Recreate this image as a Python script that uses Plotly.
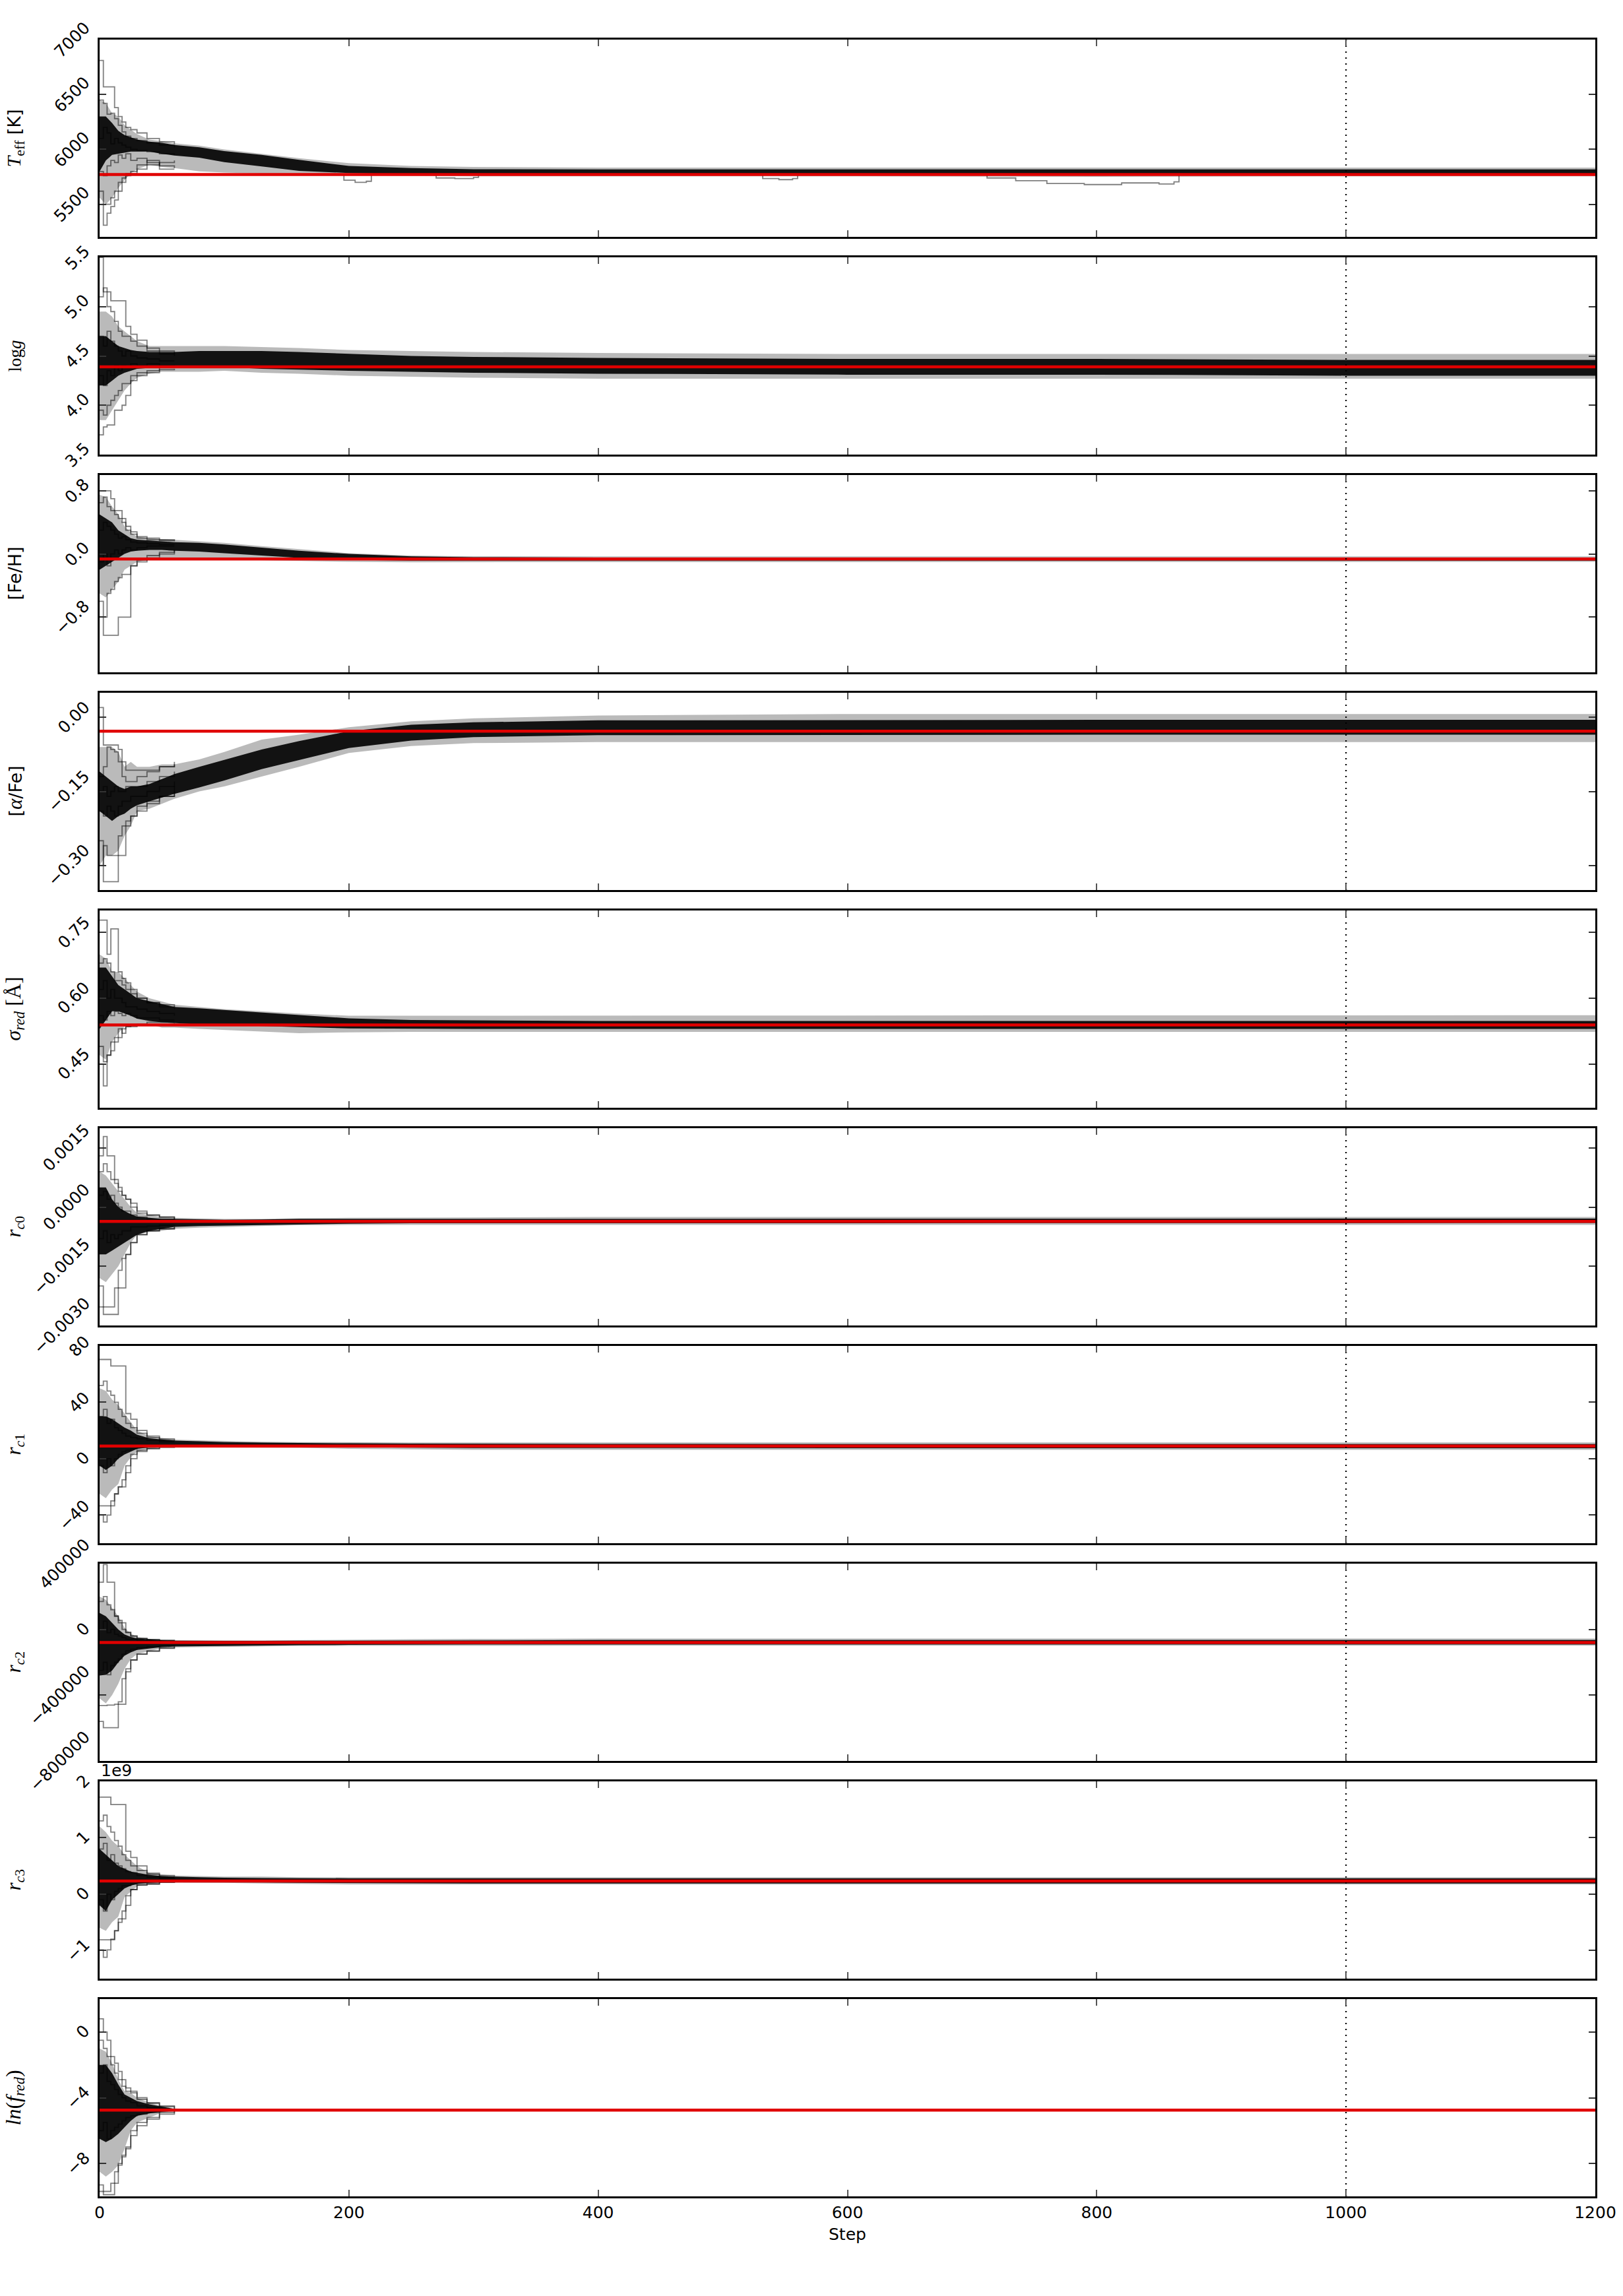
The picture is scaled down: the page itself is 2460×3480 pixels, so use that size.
import plotly.graph_objects as go
from plotly.subplots import make_subplots

# ---------------------------------------------------------------
# Data
# ---------------------------------------------------------------
STEPS = [0, 5, 10, 15, 20, 25, 30, 40, 50, 60, 80, 100, 130, 160, 200, 250,
         300, 400, 600, 800, 1000, 1200]
WALK_STEPS = [0, 3, 6, 9, 12, 15, 18, 21, 25, 30, 38, 48, 60]
X_TICKS = [0, 200, 400, 600, 800, 1000, 1200]
BURN_IN = 1000
N_STEPS = 1200

# --- T_eff ---
teff_outer_hi = [6450, 6420, 6330, 6300, 6220, 6180, 6140, 6090, 6075, 6055, 6035, 6000,
                 5960, 5920, 5875, 5850, 5840, 5835, 5835, 5835, 5835, 5835]
teff_core_hi = [6300, 6300, 6240, 6170, 6130, 6110, 6090, 6070, 6060, 6040, 6020, 5985,
                5950, 5905, 5850, 5830, 5820, 5818, 5818, 5815, 5818, 5818]
teff_core_lo = [5800, 5900, 5950, 5960, 5970, 5980, 5980, 5980, 5960, 5945, 5925, 5885,
                5845, 5805, 5785, 5775, 5772, 5770, 5770, 5770, 5770, 5770]
teff_outer_lo = [5560, 5500, 5560, 5650, 5720, 5780, 5820, 5860, 5840, 5830, 5800, 5790,
                 5780, 5770, 5765, 5760, 5755, 5755, 5755, 5750, 5755, 5755]
teff_walkers = [
    [6810, 6570, 6570, 6570, 6380, 6300, 6250, 6200, 6180, 6150, 6100, 6070, 6050],
    [6450, 6420, 6320, 6330, 6280, 6220, 6160, 6120, 6100, 6080, 6060, 6040, 6020],
    [6100, 6200, 6150, 6050, 6100, 6060, 6040, 6020, 6000, 5990, 5980, 5960, 5950],
    [5800, 5760, 5850, 5900, 5880, 5950, 5920, 5960, 5900, 5920, 5880, 5850, 5830],
    [5620, 5500, 5500, 5560, 5620, 5700, 5740, 5780, 5800, 5860, 5900, 5820, 5820],
    [5500, 5310, 5420, 5480, 5540, 5620, 5700, 5760, 5780, 5820, 5860, 5880, 5900],
]
teff_stray_steps = [192, 196, 205, 214, 218, None, 262, 270, 285, 300, 304, None,
                    528, 532, 545, 556, 560, None,
                    705, 712, 735, 760, 790, 820, 850, 862, 866]
teff_stray_vals = [5770, 5720, 5700, 5710, 5770, None, 5770, 5740, 5735, 5745, 5770, None,
                   5770, 5735, 5725, 5735, 5770, None,
                   5770, 5740, 5715, 5690, 5680, 5695, 5685, 5705, 5770]
teff_best = 5772
teff_range = [5204, 7000]
teff_tickvals = [5500, 6000, 6500, 7000]
teff_ticktext = ["5500", "6000", "6500", "7000"]

# --- log g ---
logg_outer_hi = [4.95, 4.95, 4.9, 4.8, 4.75, 4.7, 4.65, 4.6, 4.6, 4.6, 4.6, 4.6,
                 4.59, 4.58, 4.56, 4.55, 4.54, 4.53, 4.52, 4.52, 4.52, 4.52]
logg_core_hi = [4.7, 4.7, 4.65, 4.6, 4.58, 4.56, 4.55, 4.54, 4.54, 4.54, 4.55, 4.55,
                4.55, 4.54, 4.52, 4.5, 4.49, 4.48, 4.47, 4.47, 4.46, 4.46]
logg_core_lo = [4.2, 4.2, 4.25, 4.3, 4.33, 4.35, 4.37, 4.38, 4.39, 4.39, 4.39, 4.39,
                4.37, 4.36, 4.35, 4.34, 4.33, 4.32, 4.31, 4.31, 4.3, 4.3]
logg_outer_lo = [3.85, 3.85, 3.95, 4.05, 4.15, 4.22, 4.28, 4.32, 4.34, 4.34, 4.34, 4.35,
                 4.33, 4.32, 4.3, 4.29, 4.28, 4.27, 4.27, 4.27, 4.27, 4.27]
logg_walkers = [
    [5.5, 5.15, 5.15, 5.06, 5.06, 5.06, 5.06, 4.80, 4.72, 4.66, 4.58, 4.55, 4.52],
    [5.1, 5.19, 5.0, 4.95, 4.85, 4.75, 4.7, 4.7, 4.65, 4.6, 4.55, 4.52, 4.5],
    [4.7, 4.6, 4.75, 4.65, 4.6, 4.55, 4.5, 4.55, 4.5, 4.48, 4.47, 4.45, 4.45],
    [4.3, 4.2, 4.35, 4.3, 4.4, 4.35, 4.4, 4.38, 4.42, 4.4, 4.42, 4.4, 4.41],
    [3.95, 3.9, 4.0, 4.05, 4.1, 4.15, 4.22, 4.22, 4.3, 4.33, 4.35, 4.38, 4.38],
    [3.7, 3.78, 3.8, 3.8, 3.95, 3.95, 4.0, 4.1, 4.25, 4.3, 4.33, 4.36, 4.37],
]
logg_best = 4.39
logg_range = [3.5, 5.5]
logg_tickvals = [3.5, 4.0, 4.5, 5.0, 5.5]
logg_ticktext = ["3.5", "4.0", "4.5", "5.0", "5.5"]

# --- [Fe/H] ---
feh_outer_hi = [0.75, 0.72, 0.6, 0.5, 0.35, 0.27, 0.22, 0.2, 0.19, 0.18, 0.16, 0.14,
                0.1, 0.06, 0.01, -0.02, -0.03, -0.03, -0.03, -0.03, -0.03, -0.03]
feh_core_hi = [0.5, 0.45, 0.4, 0.3, 0.25, 0.2, 0.18, 0.17, 0.16, 0.15, 0.14, 0.12,
               0.08, 0.04, 0.0, -0.03, -0.04, -0.045, -0.045, -0.045, -0.045, -0.045]
feh_core_lo = [-0.2, -0.15, -0.1, -0.05, 0.0, 0.03, 0.04, 0.05, 0.05, 0.04, 0.03, 0.01,
               -0.02, -0.05, -0.075, -0.085, -0.085, -0.085, -0.085, -0.085, -0.085, -0.085]
feh_outer_lo = [-0.5, -0.55, -0.45, -0.35, -0.2, -0.15, -0.1, -0.07, -0.07, -0.06, -0.06, -0.07,
                -0.08, -0.09, -0.1, -0.105, -0.105, -0.1, -0.1, -0.1, -0.1, -0.1]
feh_walkers = [
    [0.80, 0.80, 0.80, 0.70, 0.55, 0.55, 0.45, 0.35, 0.28, 0.22, 0.2, 0.18, 0.17],
    [0.65, 0.72, 0.6, 0.55, 0.5, 0.45, 0.4, 0.3, 0.25, 0.2, 0.18, 0.17, 0.16],
    [0.3, 0.4, 0.35, 0.3, 0.25, 0.2, 0.22, 0.18, 0.15, 0.14, 0.13, 0.12, 0.12],
    [-0.1, 0.0, -0.15, 0.0, 0.05, 0.0, 0.05, 0.08, 0.05, 0.08, 0.1, 0.1, 0.1],
    [-0.80, -0.80, -0.5, -0.45, -0.35, -0.3, -0.26, -0.26, -0.15, -0.1, -0.05, 0.0, 0.05],
    [-0.6, -1.03, -1.03, -1.03, -1.03, -0.80, -0.80, -0.80, -0.15, -0.08, -0.02, 0.02, 0.05],
]
feh_best = -0.065
feh_range = [-1.5, 1.0]
feh_tickvals = [-0.8, 0.0, 0.8]
feh_ticktext = ["\u22120.8", "0.0", "0.8"]

# --- [alpha/Fe] ---
afe_outer_hi = [-0.06, -0.06, -0.06, -0.07, -0.1, -0.09, -0.1, -0.1, -0.095, -0.095, -0.085, -0.07,
                -0.045, -0.035, -0.02, -0.008, -0.002, 0.004, 0.007, 0.007, 0.007, 0.007]
afe_core_hi = [-0.11, -0.12, -0.13, -0.14, -0.145, -0.14, -0.14, -0.135, -0.125, -0.115, -0.1, -0.086,
               -0.065, -0.048, -0.028, -0.015, -0.01, -0.006, -0.005, -0.005, -0.005, -0.005]
afe_core_lo = [-0.19, -0.2, -0.21, -0.2, -0.195, -0.185, -0.178, -0.17, -0.162, -0.155, -0.142, -0.128,
               -0.105, -0.087, -0.062, -0.047, -0.04, -0.036, -0.035, -0.035, -0.035, -0.035]
afe_outer_lo = [-0.3, -0.28, -0.28, -0.27, -0.24, -0.22, -0.19, -0.185, -0.175, -0.165, -0.15, -0.14,
                -0.12, -0.1, -0.072, -0.058, -0.052, -0.05, -0.05, -0.05, -0.05, -0.05]
afe_walkers = [
    [0.02, -0.056, -0.056, -0.056, -0.056, -0.065, -0.09, -0.107, -0.107, -0.107, -0.107, -0.1, -0.095],
    [-0.12, -0.1, -0.06, -0.065, -0.07, -0.09, -0.12, -0.13, -0.13, -0.12, -0.11, -0.1, -0.09],
    [-0.15, -0.14, -0.16, -0.15, -0.14, -0.15, -0.15, -0.14, -0.14, -0.14, -0.13, -0.12, -0.11],
    [-0.19, -0.2, -0.18, -0.19, -0.2, -0.18, -0.17, -0.17, -0.16, -0.16, -0.15, -0.14, -0.13],
    [-0.30, -0.26, -0.28, -0.28, -0.28, -0.28, -0.28, -0.22, -0.2, -0.18, -0.17, -0.16, -0.14],
    [-0.25, -0.333, -0.333, -0.333, -0.333, -0.24, -0.22, -0.21, -0.2, -0.19, -0.175, -0.16, -0.15],
]
afe_best = -0.028
afe_range = [-0.35, 0.05]
afe_tickvals = [-0.30, -0.15, 0.00]
afe_ticktext = ["\u22120.30", "\u22120.15", "0.00"]

# --- sigma_red ---
sig_outer_hi = [0.7, 0.69, 0.66, 0.66, 0.645, 0.63, 0.615, 0.6, 0.592, 0.585, 0.58, 0.575,
                0.57, 0.565, 0.56, 0.56, 0.561, 0.561, 0.561, 0.561, 0.561, 0.561]
sig_core_hi = [0.67, 0.67, 0.65, 0.63, 0.62, 0.61, 0.6, 0.593, 0.586, 0.58, 0.577, 0.573,
               0.567, 0.561, 0.554, 0.55, 0.549, 0.548, 0.548, 0.548, 0.548, 0.548]
sig_core_lo = [0.53, 0.55, 0.57, 0.57, 0.565, 0.56, 0.553, 0.548, 0.545, 0.543, 0.54, 0.539,
               0.536, 0.534, 0.531, 0.53, 0.53, 0.53, 0.53, 0.53, 0.53, 0.53]
sig_outer_lo = [0.47, 0.46, 0.5, 0.52, 0.535, 0.54, 0.54, 0.54, 0.533, 0.533, 0.53, 0.528,
                0.524, 0.52, 0.522, 0.523, 0.523, 0.523, 0.523, 0.523, 0.523, 0.523]
sig_walkers = [
    [0.778, 0.778, 0.70, 0.758, 0.758, 0.66, 0.645, 0.635, 0.62, 0.60, 0.59, 0.585, 0.58],
    [0.68, 0.69, 0.68, 0.66, 0.64, 0.64, 0.63, 0.62, 0.61, 0.6, 0.59, 0.58, 0.575],
    [0.62, 0.64, 0.6, 0.62, 0.6, 0.6, 0.59, 0.58, 0.58, 0.575, 0.57, 0.565, 0.56],
    [0.56, 0.55, 0.57, 0.56, 0.57, 0.565, 0.56, 0.565, 0.56, 0.555, 0.555, 0.55, 0.55],
    [0.49, 0.455, 0.47, 0.5, 0.5, 0.51, 0.53, 0.535, 0.54, 0.54, 0.545, 0.545, 0.545],
    [0.45, 0.40, 0.47, 0.48, 0.51, 0.53, 0.52, 0.535, 0.535, 0.54, 0.54, 0.54, 0.543],
]
sig_best = 0.539
sig_range = [0.35, 0.80]
sig_tickvals = [0.45, 0.60, 0.75]
sig_ticktext = ["0.45", "0.60", "0.75"]

# --- r_c0 ---
rc0_outer_hi = [0.0009, 0.0008, 0.0006, 0.0004, 0.0002, 0.0, -0.00015, -0.0002, -0.00025, -0.00027,
                -0.00028, -0.0003, -0.0003, -0.00028, -0.00027, -0.00026, -0.00026, -0.00025,
                -0.00025, -0.00025, -0.00025, -0.00025]
rc0_core_hi = [0.0005, 0.0005, 0.0002, 0.0, -0.0001, -0.00018, -0.00024, -0.00027, -0.0003, -0.0003,
               -0.00031, -0.00032, -0.00031, -0.0003, -0.0003, -0.0003, -0.00029, -0.00029,
               -0.00029, -0.00029, -0.00029, -0.00029]
rc0_core_lo = [-0.0012, -0.0012, -0.0011, -0.001, -0.0009, -0.0008, -0.0007, -0.0006, -0.00055, -0.0005,
               -0.00048, -0.00047, -0.00045, -0.00043, -0.00042, -0.00041, -0.00041, -0.0004,
               -0.0004, -0.0004, -0.0004, -0.0004]
rc0_outer_lo = [-0.0018, -0.0019, -0.0017, -0.0015, -0.0012, -0.0009, -0.0007, -0.00063, -0.0006,
                -0.00055, -0.00052, -0.0005, -0.00048, -0.00046, -0.00045, -0.00045, -0.00045,
                -0.00045, -0.00045, -0.00045, -0.00045, -0.00045]
rc0_walkers = [
    [0.0013, 0.00179, 0.0013, 0.0013, 0.0007, 0.0005, 0.0003, 0.0002, 0.0, -0.00015, -0.0002, -0.00025, -0.0003],
    [0.0009, 0.0011, 0.0009, 0.0007, 0.0006, 0.0004, 0.0003, 0.0002, 0.0001, -0.0001, -0.0002, -0.00025, -0.0003],
    [0.0003, 0.0004, 0.0002, 0.0003, 0.0001, 0.0, -0.0001, -0.0001, -0.0002, -0.00025, -0.0003, -0.0003, -0.00032],
    [-0.0008, -0.0006, -0.0009, -0.0007, -0.0008, -0.0007, -0.0006, -0.0006, -0.0005, -0.0005, -0.00048, -0.00046, -0.00045],
    [-0.00253, -0.00253, -0.00253, -0.00253, -0.00205, -0.00205, -0.00205, -0.0012, -0.0009, -0.0007, -0.0006, -0.00055, -0.0005],
    [-0.002, -0.00272, -0.00272, -0.00272, -0.00272, -0.0016, -0.0013, -0.0012, -0.0009, -0.0007, -0.0006, -0.00055, -0.0005],
]
rc0_best = -0.00036
rc0_range = [-0.003, 0.002]
rc0_tickvals = [-0.0030, -0.0015, 0.0, 0.0015]
rc0_ticktext = ["\u22120.0030", "\u22120.0015", "0.0000", "0.0015"]

# --- r_c1 ---
rc1_outer_hi = [50, 48, 42, 38, 32, 26, 20, 16, 14.6, 13.5, 13, 12.5,
                12, 11.8, 11.6, 11.5, 11.5, 11.5, 11.5, 11.5, 11.5, 11.5]
rc1_core_hi = [30, 30, 28, 25, 22, 20, 17, 14.5, 13.5, 12.8, 12.3, 11.8,
               11.4, 11.1, 10.9, 10.7, 10.6, 10.5, 10.4, 10.4, 10.4, 10.4]
rc1_core_lo = [-5, -8, -5, 0, 3, 5, 7, 8, 8.5, 8.7, 8.7, 8.6,
               8.5, 8.3, 8.0, 7.8, 7.6, 7.5, 7.4, 7.4, 7.4, 7.4]
rc1_outer_lo = [-25, -28, -22, -18, -5, 1, 5, 7, 8, 8, 8, 8,
                7.8, 7.7, 7, 6.5, 6.3, 6.2, 6.2, 6.2, 6.2, 6.2]
rc1_walkers = [
    [70.4, 70.4, 70.4, 65.8, 65.8, 65.8, 65.8, 32, 28, 20, 16, 14, 13],
    [52, 55, 48, 45, 40, 35, 30, 25, 22, 18, 15, 13, 12.5],
    [30, 35, 25, 28, 22, 20, 18, 16, 15, 14, 13, 12, 12],
    [-5, -10, 0, -5, 0, 3, 5, 6, 7, 8, 9, 9.5, 10],
    [-33.5, -33.5, -33.5, -33.5, -25, -20, -20, -5, 0, 5, 7, 8, 8.5],
    [-40, -45, -40, -30, -25, -20, -15, -10, 3, 6, 7.3, 8.3, 8.5],
]
rc1_best = 9.0
rc1_range = [-60, 80]
rc1_tickvals = [-40, 0, 40, 80]
rc1_ticktext = ["\u221240", "0", "40", "80"]

# --- r_c2 ---
rc2_outer_hi = [200000, 180000, 130000, 80000, 10000, -25000, -45000, -58000, -64000, -66000, -67000,
                -68000, -66000, -64000, -62000, -60000, -58000, -56000, -56000, -56000, -56000, -56000]
rc2_core_hi = [100000, 80000, 40000, 0, -30000, -45000, -55000, -62000, -67000, -69000, -70000,
               -71000, -70000, -69000, -68000, -67000, -66000, -65000, -65000, -65000, -65000, -65000]
rc2_core_lo = [-280000, -276000, -250000, -200000, -160000, -140000, -125000, -115000, -108000, -104000,
               -102000, -100000, -98000, -96000, -94000, -92000, -92000, -92000, -92000, -92000,
               -92000, -92000]
rc2_outer_lo = [-420000, -450000, -400000, -330000, -240000, -180000, -150000, -133000, -115000, -110000,
                -108000, -106000, -103000, -101000, -100000, -99000, -99000, -99000, -99000, -99000,
                -99000, -99000]
rc2_walkers = [
    [287000, 394600, 287000, 287000, 82000, 55000, 40000, -16600, -40000, -55000, -61000, -66700, -68000],
    [170000, 200000, 150000, 120000, 80000, 40000, 0, -20000, -40000, -55000, -63000, -67000, -70000],
    [0, 50000, -20000, 0, -30000, -40000, -50000, -60000, -60000, -70000, -72000, -75000, -78000],
    [-250000, -200000, -276000, -220000, -200000, -180000, -150000, -130000, -120000, -110000, -105000, -100000, -95000],
    [-463600, -463600, -460000, -460000, -455000, -455000, -455000, -258000, -186000, -150700, -133000, -115000, -106000],
    [-560000, -597700, -597700, -597700, -597700, -440000, -300000, -240000, -186000, -150000, -130000, -112000, -104000],
]
rc2_best = -80000
rc2_range = [-800000, 400000]
rc2_tickvals = [-800000, -400000, 0, 400000]
rc2_ticktext = ["\u2212800000", "\u2212400000", "0", "400000"]

# --- r_c3 ---
rc3_outer_hi = [1.2e9, 1.1e9, 0.95e9, 0.85e9, 0.7e9, 0.6e9, 0.5e9, 0.37e9, 0.35e9, 0.33e9, 0.32e9,
                0.31e9, 0.31e9, 0.3e9, 0.3e9, 0.3e9, 0.3e9, 0.3e9, 0.3e9, 0.3e9, 0.3e9, 0.3e9]
rc3_core_hi = [0.8e9, 0.7e9, 0.6e9, 0.5e9, 0.45e9, 0.4e9, 0.38e9, 0.34e9, 0.32e9, 0.31e9, 0.3e9,
               0.29e9, 0.285e9, 0.28e9, 0.28e9, 0.28e9, 0.28e9, 0.28e9, 0.28e9, 0.28e9, 0.28e9, 0.28e9]
rc3_core_lo = [-0.2e9, -0.3e9, -0.1e9, 0.0, 0.1e9, 0.15e9, 0.18e9, 0.2e9, 0.21e9, 0.21e9, 0.21e9,
               0.21e9, 0.205e9, 0.2e9, 0.195e9, 0.19e9, 0.19e9, 0.19e9, 0.19e9, 0.19e9, 0.19e9, 0.19e9]
rc3_outer_lo = [-0.6e9, -0.65e9, -0.5e9, -0.4e9, -0.05e9, 0.05e9, 0.14e9, 0.18e9, 0.2e9, 0.2e9, 0.2e9,
                0.2e9, 0.19e9, 0.18e9, 0.17e9, 0.17e9, 0.17e9, 0.17e9, 0.17e9, 0.17e9, 0.17e9, 0.17e9]
rc3_walkers = [
    [1.72e9, 1.72e9, 1.72e9, 1.59e9, 1.59e9, 1.59e9, 1.59e9, 0.76e9, 0.65e9, 0.5e9, 0.37e9, 0.33e9, 0.31e9],
    [1.3e9, 1.4e9, 1.2e9, 1.1e9, 0.95e9, 0.85e9, 0.7e9, 0.6e9, 0.5e9, 0.42e9, 0.35e9, 0.3e9, 0.3e9],
    [0.8e9, 0.9e9, 0.6e9, 0.7e9, 0.55e9, 0.5e9, 0.45e9, 0.4e9, 0.38e9, 0.33e9, 0.3e9, 0.28e9, 0.27e9],
    [-0.1e9, -0.3e9, 0.0, -0.1e9, 0.05e9, 0.1e9, 0.15e9, 0.15e9, 0.18e9, 0.2e9, 0.21e9, 0.22e9, 0.23e9],
    [-0.81e9, -0.81e9, -0.81e9, -0.81e9, -0.65e9, -0.44e9, -0.44e9, -0.03e9, 0.08e9, 0.16e9, 0.18e9, 0.21e9, 0.22e9],
    [-0.99e9, -1.12e9, -0.99e9, -0.8e9, -0.65e9, -0.5e9, -0.3e9, -0.2e9, 0.08e9, 0.16e9, 0.18e9, 0.21e9, 0.22e9],
]
rc3_best = 0.233e9
rc3_range = [-1.5e9, 2.0e9]
rc3_tickvals = [-1e9, 0, 1e9, 2e9]
rc3_ticktext = ["\u22121", "0", "1", "2"]
rc3_offset_text = "1e9"

# --- ln(f_red) ---
lnf_outer_hi = [-1.0, -1.2, -1.9, -2.9, -3.6, -3.7, -4.0, -4.3, -4.5, -4.65, -4.7, -4.72,
                -4.72, -4.72, -4.72, -4.72, -4.72, -4.72, -4.72, -4.72, -4.72, -4.72]
lnf_core_hi = [-2.0, -2.0, -2.5, -3.2, -3.8, -4.0, -4.2, -4.4, -4.55, -4.68, -4.72, -4.73,
               -4.73, -4.73, -4.73, -4.73, -4.73, -4.73, -4.73, -4.73, -4.73, -4.73]
lnf_core_lo = [-6.5, -6.7, -6.5, -6.2, -5.8, -5.4, -5.1, -4.95, -4.85, -4.8, -4.77, -4.77,
               -4.77, -4.77, -4.77, -4.77, -4.77, -4.77, -4.77, -4.77, -4.77, -4.77]
lnf_outer_lo = [-8.5, -8.8, -8.5, -8.1, -7.1, -6.0, -5.5, -5.2, -4.9, -4.82, -4.78, -4.78,
                -4.78, -4.78, -4.78, -4.78, -4.78, -4.78, -4.78, -4.78, -4.78, -4.78]
lnf_walkers = [
    [0.8, 0.0, -0.5, -1.5, -1.9, -2.4, -2.9, -3.4, -3.6, -4.0, -4.3, -4.5, -4.65],
    [-0.5, -1.0, -1.5, -2.0, -2.5, -2.9, -3.3, -3.6, -3.7, -4.1, -4.35, -4.55, -4.7],
    [-2.5, -2.0, -3.0, -3.2, -3.5, -3.8, -4.0, -4.2, -4.3, -4.5, -4.6, -4.7, -4.75],
    [-6.0, -5.5, -6.5, -6.0, -5.8, -5.6, -5.4, -5.2, -5.1, -5.0, -4.9, -4.8, -4.78],
    [-9.7, -9.7, -9.7, -9.2, -9.2, -8.1, -7.6, -7.1, -6.0, -5.5, -5.2, -4.9, -4.8],
    [-9.3, -9.9, -9.9, -9.9, -8.5, -8.0, -7.5, -7.0, -6.3, -5.7, -5.3, -5.0, -4.82],
]
lnf_best = -4.75
lnf_range = [-10, 2]
lnf_tickvals = [-8, -4, 0]
lnf_ticktext = ["\u22128", "\u22124", "0"]

# --- axis titles ---
SER = 'font-family:Liberation Serif;font-size:%dpx'
teff_label = ('<span style="%s"><i>T</i><sub><span style="%s">eff</span></sub></span> [K]'
              % (SER % 30, SER % 22))
logg_label = '<span style="%s">log<i>g</i></span>' % (SER % 27)
feh_label = '[Fe/H]'
afe_label = '[<span style="%s"><i>α</i></span>/Fe]' % (SER % 31)
sig_label = '<span style="%s"><i>σ</i><sub><i>red</i></sub> [Å]</span>' % (SER % 32)
rc0_label = '<span style="%s"><i>r</i><sub><i>c</i>0</sub></span>' % (SER % 31)
rc1_label = '<span style="%s"><i>r</i><sub><i>c</i>1</sub></span>' % (SER % 31)
rc2_label = '<span style="%s"><i>r</i><sub><i>c</i>2</sub></span>' % (SER % 31)
rc3_label = '<span style="%s"><i>r</i><sub><i>c</i>3</sub></span>' % (SER % 31)
lnf_label = '<span style="%s"><i>ln</i>(<i>f</i><sub><i>red</i></sub>)</span>' % (SER % 32)
x_label = "Step"

PANELS = [
    dict(ohi=teff_outer_hi, chi=teff_core_hi, clo=teff_core_lo, olo=teff_outer_lo, walkers=teff_walkers,
         best=teff_best, rng=teff_range, tv=teff_tickvals, tt=teff_ticktext, label=teff_label),
    dict(ohi=logg_outer_hi, chi=logg_core_hi, clo=logg_core_lo, olo=logg_outer_lo, walkers=logg_walkers,
         best=logg_best, rng=logg_range, tv=logg_tickvals, tt=logg_ticktext, label=logg_label),
    dict(ohi=feh_outer_hi, chi=feh_core_hi, clo=feh_core_lo, olo=feh_outer_lo, walkers=feh_walkers,
         best=feh_best, rng=feh_range, tv=feh_tickvals, tt=feh_ticktext, label=feh_label),
    dict(ohi=afe_outer_hi, chi=afe_core_hi, clo=afe_core_lo, olo=afe_outer_lo, walkers=afe_walkers,
         best=afe_best, rng=afe_range, tv=afe_tickvals, tt=afe_ticktext, label=afe_label),
    dict(ohi=sig_outer_hi, chi=sig_core_hi, clo=sig_core_lo, olo=sig_outer_lo, walkers=sig_walkers,
         best=sig_best, rng=sig_range, tv=sig_tickvals, tt=sig_ticktext, label=sig_label),
    dict(ohi=rc0_outer_hi, chi=rc0_core_hi, clo=rc0_core_lo, olo=rc0_outer_lo, walkers=rc0_walkers,
         best=rc0_best, rng=rc0_range, tv=rc0_tickvals, tt=rc0_ticktext, label=rc0_label),
    dict(ohi=rc1_outer_hi, chi=rc1_core_hi, clo=rc1_core_lo, olo=rc1_outer_lo, walkers=rc1_walkers,
         best=rc1_best, rng=rc1_range, tv=rc1_tickvals, tt=rc1_ticktext, label=rc1_label),
    dict(ohi=rc2_outer_hi, chi=rc2_core_hi, clo=rc2_core_lo, olo=rc2_outer_lo, walkers=rc2_walkers,
         best=rc2_best, rng=rc2_range, tv=rc2_tickvals, tt=rc2_ticktext, label=rc2_label),
    dict(ohi=rc3_outer_hi, chi=rc3_core_hi, clo=rc3_core_lo, olo=rc3_outer_lo, walkers=rc3_walkers,
         best=rc3_best, rng=rc3_range, tv=rc3_tickvals, tt=rc3_ticktext, label=rc3_label),
    dict(ohi=lnf_outer_hi, chi=lnf_core_hi, clo=lnf_core_lo, olo=lnf_outer_lo, walkers=lnf_walkers,
         best=lnf_best, rng=lnf_range, tv=lnf_tickvals, tt=lnf_ticktext, label=lnf_label),
]

# ---------------------------------------------------------------
# Figure
# ---------------------------------------------------------------
W, H = 2460, 3480
ML, MR, MT, MB = 151, 42, 60, 151
PLOT_W = W - ML - MR
PLOT_H = H - MT - MB
N = len(PANELS)

FONT = "DejaVu Sans"
FS = 25
WALK_COLOR = "rgba(0,0,0,0.5)"
OUTER_FILL = "rgba(0,0,0,0.27)"
CORE_FILL = "rgba(0,0,0,0.9)"
RED = "#e00000"

fig = make_subplots(rows=N, cols=1, shared_xaxes=True, vertical_spacing=31 / PLOT_H)

for i, p in enumerate(PANELS, start=1):
    common = dict(mode="lines", hoverinfo="skip", showlegend=False)
    clear = dict(width=0, color="rgba(0,0,0,0)")
    fig.add_trace(go.Scatter(x=STEPS, y=p["olo"], line=clear, **common), row=i, col=1)
    fig.add_trace(go.Scatter(x=STEPS, y=p["ohi"], line=clear, fill="tonexty",
                             fillcolor=OUTER_FILL, **common), row=i, col=1)
    fig.add_trace(go.Scatter(x=STEPS, y=p["clo"], line=clear, **common), row=i, col=1)
    fig.add_trace(go.Scatter(x=STEPS, y=p["chi"], line=clear, fill="tonexty",
                             fillcolor=CORE_FILL, **common), row=i, col=1)
    for w in p["walkers"]:
        fig.add_trace(go.Scatter(x=WALK_STEPS, y=w, line=dict(width=1.8, color=WALK_COLOR, shape="hv"),
                                 **common), row=i, col=1)
    if i == 1:
        fig.add_trace(go.Scatter(x=teff_stray_steps, y=teff_stray_vals, connectgaps=False,
                                 line=dict(width=1.8, color=WALK_COLOR, shape="hv"), **common),
                      row=i, col=1)
    # best-fit value
    fig.add_trace(go.Scatter(x=[0, N_STEPS], y=[p["best"], p["best"]],
                             line=dict(width=4.5, color=RED), **common), row=i, col=1)
    # burn-in marker
    fig.add_trace(go.Scatter(x=[BURN_IN, BURN_IN], y=p["rng"],
                             line=dict(width=2.2, color="black", dash="2px,7px"), **common),
                  row=i, col=1)

    fig.update_yaxes(range=p["rng"], tickvals=p["tv"], showticklabels=False,
                     ticks="inside", ticklen=10, tickwidth=1.5, tickcolor="#333",
                     showline=True, linecolor="black", linewidth=2.5, mirror="ticks",
                     showgrid=False, zeroline=False, row=i, col=1)
    fig.update_xaxes(range=[0, N_STEPS], tickvals=X_TICKS, ticktext=[str(t) for t in X_TICKS],
                     ticks="inside", ticklen=10, tickwidth=1.5, tickcolor="#555",
                     showline=True, linecolor="black", linewidth=2.5, mirror="ticks",
                     showgrid=False, zeroline=False, showticklabels=(i == N),
                     tickfont=dict(family=FONT, size=FS, color="black"), row=i, col=1)

annotations = []
LABEL_RIGHT = (143 - ML) / PLOT_W
for i, p in enumerate(PANELS, start=1):
    yname = "yaxis" if i == 1 else "yaxis%d" % i
    yref = "y" if i == 1 else "y%d" % i
    dom = fig.layout[yname].domain
    # rotated tick labels (matplotlib-style: right-centre of rotated box at tick)
    for v, t in zip(p["tv"], p["tt"]):
        annotations.append(dict(text=t, xref="paper", yref=yref, x=LABEL_RIGHT, y=v,
                                xanchor="right", yanchor="middle", textangle=-45,
                                showarrow=False, borderpad=0,
                                font=dict(family=FONT, size=FS, color="black")))
    # y-axis title
    annotations.append(dict(text=p["label"], xref="paper", yref="paper",
                            x=(22 - ML) / PLOT_W, y=(dom[0] + dom[1]) / 2,
                            xanchor="center", yanchor="middle", textangle=-90, showarrow=False,
                            font=dict(family=FONT, size=27, color="black")))

dom9 = fig.layout["yaxis9"].domain
annotations.append(dict(text=rc3_offset_text, xref="paper", yref="paper", x=0, y=dom9[1],
                        xanchor="left", yanchor="bottom", showarrow=False, yshift=0,
                        font=dict(family=FONT, size=FS, color="black")))
annotations.append(dict(text=x_label, xref="paper", yref="paper", x=0.5,
                        y=-(3386 - (H - MB)) / PLOT_H,
                        xanchor="center", yanchor="middle", showarrow=False,
                        font=dict(family=FONT, size=FS, color="black")))

fig.update_layout(width=W, height=H, margin=dict(l=ML, r=MR, t=MT, b=MB, autoexpand=False),
                  plot_bgcolor="white", paper_bgcolor="white", showlegend=False,
                  annotations=annotations, font=dict(family=FONT, size=FS, color="black"))

fig.write_html("out.html", config={"displayModeBar": False},
               post_script="document.body.style.margin='0';document.body.style.overflow='hidden';")
